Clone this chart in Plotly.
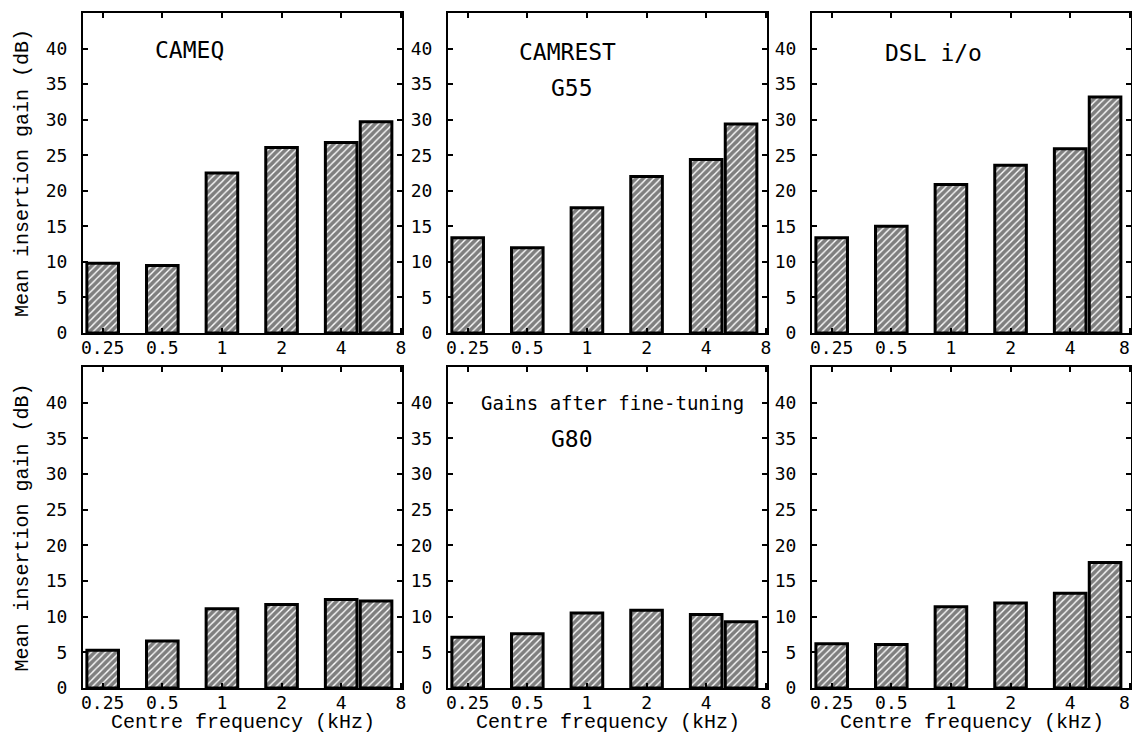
import math
import plotly.graph_objects as go

# ---- data ----
tick_labels = ["0.25", "0.5", "1", "2", "4", "8"]
tick_freqs_khz = [0.25, 0.5, 1, 2, 4, 8]
bar_freqs_khz = [0.25, 0.5, 1, 2, 4, 6]
y_ticks = [0, 5, 10, 15, 20, 25, 30, 35, 40]

cameq = [9.8, 9.5, 22.5, 26.1, 26.8, 29.7]
camrest_g55 = [13.4, 12.0, 17.6, 22.0, 24.4, 29.4]
dsl_io = [13.4, 15.0, 20.9, 23.6, 25.9, 33.2]
cameq_tuned = [5.3, 6.6, 11.1, 11.7, 12.4, 12.2]
camrest_g80_tuned = [7.1, 7.6, 10.5, 10.9, 10.3, 9.3]
dsl_io_tuned = [6.2, 6.1, 11.4, 11.9, 13.3, 17.6]

panel_values = [cameq, camrest_g55, dsl_io, cameq_tuned, camrest_g80_tuned, dsl_io_tuned]

# octave scale (log2 of frequency) on a linear axis
bar_pos = [math.log2(f) for f in bar_freqs_khz]
tick_pos = [math.log2(f) for f in tick_freqs_khz]
# right-most column: pad the last label so it stays inside the page edge
tick_labels_edge = tick_labels[:-1] + [tick_labels[-1] + "\u00a0"]

W, H = 1132, 734
ML, MR, MT, MB = 83, 1, 13, 46
PW = W - ML - MR  # 1048
PH = H - MT - MB  # 675
xdom = [[0.0, 319 / PW], [365 / PW, 684 / PW], [729 / PW, 1.0]]
ydom_top = [355 / PH, 1.0]
ydom_bot = [0.0, 321 / PH]

TICK_FONT = dict(family="DejaVu Sans Mono", size=18, color="black")
TITLE_FONT = dict(family="Liberation Mono", size=20, color="black")
ANN_FONT = dict(family="DejaVu Sans Mono", size=23, color="black")

fig = go.Figure()
layout = dict(
    width=W, height=H,
    margin=dict(l=ML, r=MR, t=MT, b=MB, autoexpand=False),
    paper_bgcolor="white", plot_bgcolor="white",
    showlegend=False, bargap=0,
)

for i, vals in enumerate(panel_values):
    n = i + 1
    xa = "x" if n == 1 else f"x{n}"
    ya = "y" if n == 1 else f"y{n}"
    fig.add_trace(go.Bar(
        x=bar_pos, y=vals, width=0.53,
        xaxis=xa, yaxis=ya,
        marker=dict(
            color="white",
            line=dict(color="black", width=3),
            pattern=dict(shape="/", fgcolor="black", bgcolor="white",
                         size=5, solidity=0.72),
        ),
        hoverinfo="skip",
    ))
    row = 0 if i < 3 else 1
    col = i % 3
    xkey = "xaxis" if n == 1 else f"xaxis{n}"
    ykey = "yaxis" if n == 1 else f"yaxis{n}"
    layout[xkey] = dict(
        domain=xdom[col], anchor=ya,
        range=[-2.33, 3.02],
        tickmode="array", tickvals=tick_pos,
        ticktext=tick_labels_edge if col == 2 else tick_labels,
        ticks="inside", ticklen=5, tickwidth=2, tickcolor="black",
        showline=True, linewidth=2, linecolor="black", mirror="ticks",
        showgrid=False, zeroline=False,
        tickfont=TICK_FONT, ticklabelstandoff=-3, ticklabeloverflow="allow",
        automargin=False, fixedrange=True,
    )
    layout[ykey] = dict(
        domain=ydom_top if row == 0 else ydom_bot, anchor=xa,
        range=[0, 45],
        tickmode="array", tickvals=y_ticks,
        ticks="inside", ticklen=5, tickwidth=2, tickcolor="black",
        showline=True, linewidth=2, linecolor="black", mirror="ticks",
        showgrid=False, zeroline=False,
        tickfont=TICK_FONT, ticklabelstandoff=10, ticklabeloverflow="allow",
        automargin=False, fixedrange=True,
    )

fig.update_layout(**layout)

def ann(text, n, x, y, font=ANN_FONT, **kw):
    xa = "x" if n == 1 else f"x{n}"
    ya = "y" if n == 1 else f"y{n}"
    opts = dict(xanchor="center", yanchor="middle")
    opts.update(kw)
    fig.add_annotation(text=text, xref=f"{xa} domain", yref=f"{ya} domain",
                       x=x, y=y, showarrow=False, font=font, **opts)

ann("CAMEQ", 1, 0.335, 0.884)
ann("CAMREST", 2, 0.376, 0.878)
ann("G55", 2, 0.39, 0.766)
ann("DSL i/o", 3, 0.38, 0.875)
ann("Gains after fine-tuning", 5, 0.517, 0.887,
    font=dict(family="DejaVu Sans Mono", size=19, color="black"))
ann("G80", 5, 0.39, 0.775)

# axis titles
for n in (1, 4):
    ann("Mean insertion gain (dB)", n, 0, 0.5, font=TITLE_FONT,
        textangle=-90, xshift=-61)
for n in (4, 5, 6):
    ann("Centre frequency (kHz)", n, 0.5, 0, font=TITLE_FONT, yshift=-34)

fig.write_html(
    "out.html",
    config={"displayModeBar": False, "staticPlot": True},
    post_script="document.body.style.margin='0';"
                "document.body.style.overflow='hidden';",
)
